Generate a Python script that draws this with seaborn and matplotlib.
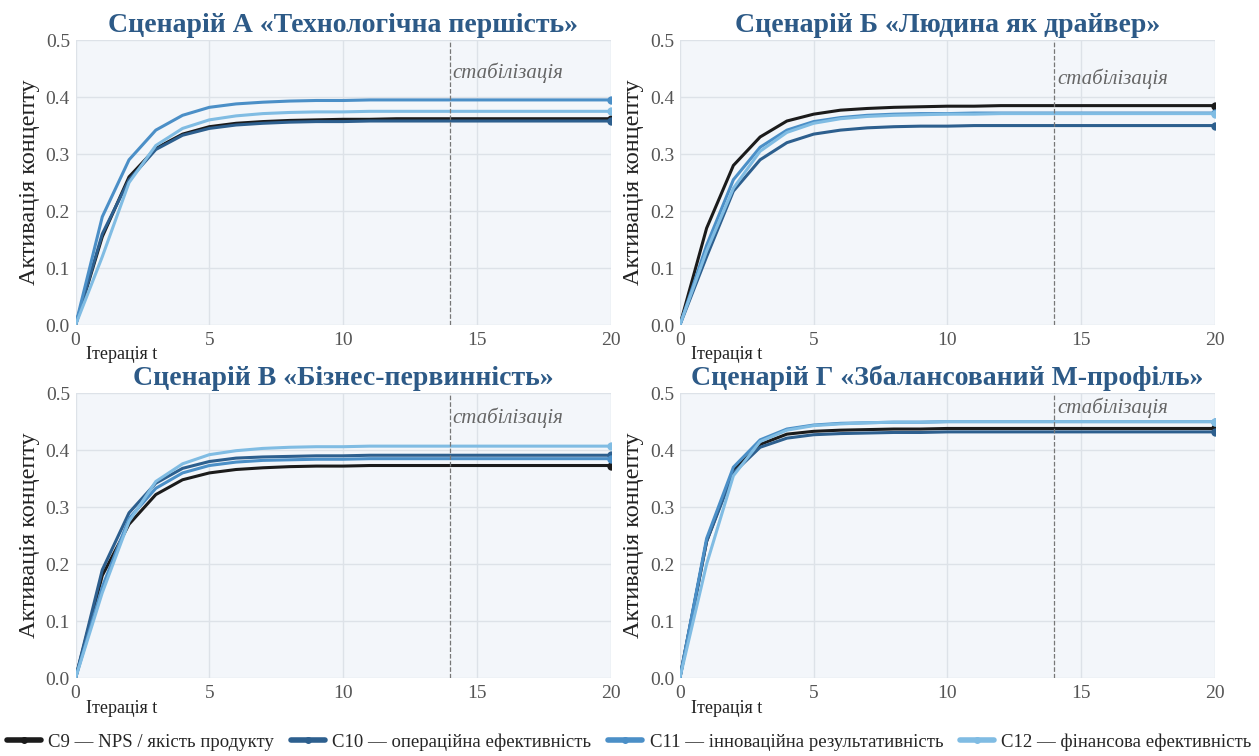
import pandas as pd
import numpy as np
import matplotlib
matplotlib.use('Agg')
import matplotlib.pyplot as plt
import seaborn as sns

t = list(range(21))

series_names = ['C9 — NPS / якість продукту', 'C10 — операційна ефективність',
                'C11 — інноваційна результативність', 'C12 — фінансова ефективність']
palette = ['#1b1b1b', '#2d5f8e', '#4b8fc7', '#80bce3']

titles = ['Сценарій А «Технологічна першість»', 'Сценарій Б «Людина як драйвер»',
          'Сценарій В «Бізнес-первинність»', 'Сценарій Г «Збалансований М-профіль»']

# scenario A
a_c9 = [0, 0.155, 0.26, 0.31, 0.335, 0.348, 0.354, 0.357, 0.359, 0.360, 0.361, 0.361, 0.362, 0.362, 0.362, 0.362, 0.362, 0.362, 0.362, 0.362, 0.362]
a_c10 = [0, 0.16, 0.255, 0.308, 0.333, 0.345, 0.351, 0.354, 0.356, 0.357, 0.357, 0.358, 0.358, 0.358, 0.358, 0.358, 0.358, 0.358, 0.358, 0.358, 0.358]
a_c11 = [0, 0.19, 0.29, 0.342, 0.368, 0.382, 0.388, 0.391, 0.393, 0.394, 0.394, 0.395, 0.395, 0.395, 0.395, 0.395, 0.395, 0.395, 0.395, 0.395, 0.395]
a_c12 = [0, 0.12, 0.25, 0.315, 0.345, 0.36, 0.367, 0.371, 0.373, 0.374, 0.374, 0.375, 0.375, 0.375, 0.375, 0.375, 0.375, 0.375, 0.375, 0.375, 0.375]

# scenario B
b_c9 = [0, 0.17, 0.28, 0.33, 0.358, 0.37, 0.377, 0.380, 0.382, 0.383, 0.384, 0.384, 0.385, 0.385, 0.385, 0.385, 0.385, 0.385, 0.385, 0.385, 0.385]
b_c10 = [0, 0.12, 0.235, 0.29, 0.32, 0.335, 0.342, 0.346, 0.348, 0.349, 0.349, 0.350, 0.350, 0.350, 0.350, 0.350, 0.350, 0.350, 0.350, 0.350, 0.350]
b_c11 = [0, 0.14, 0.255, 0.312, 0.342, 0.357, 0.364, 0.368, 0.370, 0.371, 0.371, 0.372, 0.372, 0.372, 0.372, 0.372, 0.372, 0.372, 0.372, 0.372, 0.372]
b_c12 = [0, 0.13, 0.24, 0.305, 0.338, 0.354, 0.362, 0.366, 0.368, 0.369, 0.370, 0.370, 0.371, 0.371, 0.371, 0.371, 0.371, 0.371, 0.371, 0.371, 0.371]

# scenario V
v_c9 = [0, 0.18, 0.27, 0.322, 0.348, 0.36, 0.366, 0.369, 0.371, 0.372, 0.372, 0.373, 0.373, 0.373, 0.373, 0.373, 0.373, 0.373, 0.373, 0.373, 0.373]
v_c10 = [0, 0.19, 0.29, 0.342, 0.368, 0.38, 0.386, 0.388, 0.389, 0.390, 0.390, 0.391, 0.391, 0.391, 0.391, 0.391, 0.391, 0.391, 0.391, 0.391, 0.391]
v_c11 = [0, 0.16, 0.28, 0.333, 0.36, 0.373, 0.379, 0.382, 0.383, 0.384, 0.384, 0.385, 0.385, 0.385, 0.385, 0.385, 0.385, 0.385, 0.385, 0.385, 0.385]
v_c12 = [0, 0.15, 0.275, 0.345, 0.376, 0.392, 0.399, 0.403, 0.405, 0.406, 0.406, 0.407, 0.407, 0.407, 0.407, 0.407, 0.407, 0.407, 0.407, 0.407, 0.407]

# scenario G
g_c9 = [0, 0.24, 0.365, 0.41, 0.428, 0.433, 0.435, 0.436, 0.437, 0.437, 0.438, 0.438, 0.438, 0.438, 0.438, 0.438, 0.438, 0.438, 0.438, 0.438, 0.438]
g_c10 = [0, 0.24, 0.36, 0.405, 0.421, 0.427, 0.429, 0.430, 0.431, 0.431, 0.432, 0.432, 0.432, 0.432, 0.432, 0.432, 0.432, 0.432, 0.432, 0.432, 0.432]
g_c11 = [0, 0.245, 0.37, 0.418, 0.437, 0.444, 0.447, 0.448, 0.449, 0.449, 0.450, 0.450, 0.450, 0.450, 0.450, 0.450, 0.450, 0.450, 0.450, 0.450, 0.450]
g_c12 = [0, 0.20, 0.355, 0.415, 0.435, 0.443, 0.446, 0.448, 0.449, 0.449, 0.450, 0.450, 0.450, 0.450, 0.450, 0.450, 0.450, 0.450, 0.450, 0.450, 0.450]

scenarios = [[a_c9, a_c10, a_c11, a_c12],
             [b_c9, b_c10, b_c11, b_c12],
             [v_c9, v_c10, v_c11, v_c12],
             [g_c9, g_c10, g_c11, g_c12]]
stab_y = [0.442, 0.433, 0.456, 0.475]

sns.set_theme(style='whitegrid')
plt.rcParams['font.family'] = ['Liberation Serif', 'DejaVu Serif']

fig = plt.figure(figsize=(12.59, 7.56), dpi=100)
boxes = [[0.060, 0.570, 0.425, 0.377], [0.540, 0.570, 0.425, 0.377],
         [0.060, 0.103, 0.425, 0.377], [0.540, 0.103, 0.425, 0.377]]

for i in range(4):
    ax = fig.add_axes(boxes[i])
    rows = []
    for name, vals in zip(series_names, scenarios[i]):
        for x, y in zip(t, vals):
            rows.append({'t': x, 'val': y, 'series': name})
    df = pd.DataFrame(rows)
    sns.lineplot(data=df, x='t', y='val', hue='series', palette=palette, ax=ax,
                 linewidth=2.2, marker='o', markersize=6, markevery=[20],
                 markeredgewidth=0, legend=False)
    ax.set_facecolor('#f3f6fa')
    ax.grid(color='#dde2e8', linewidth=1)
    for s in ax.spines.values():
        s.set_visible(False)
    ax.set_xlim(0, 20)
    ax.set_ylim(0, 0.5)
    ax.set_xticks([0, 5, 10, 15, 20])
    ax.set_yticks([0, 0.1, 0.2, 0.3, 0.4, 0.5])
    ax.set_yticklabels(['0.0', '0.1', '0.2', '0.3', '0.4', '0.5'])
    ax.tick_params(axis='y', labelsize=14, labelcolor='#555555', pad=4, length=0)
    ax.tick_params(axis='x', labelsize=14, labelcolor='#555555', pad=5, length=0)
    ax.set_xlabel('')
    ax.set_ylabel('Активація концепту', fontsize=17.5, color='#222222', labelpad=4)
    ax.text(0.02, -0.075, 'Ітерація t', transform=ax.transAxes, fontsize=13,
            color='#222222', ha='left', va='top')
    ax.axvline(14, color='#777777', linestyle='--', linewidth=0.9)
    ax.text(14.1, stab_y[i], 'стабілізація', fontsize=15, style='italic',
            color='#666666', ha='left', va='center')
    ax.set_title(titles[i], fontsize=20, fontweight='bold', color='#2d5a87', pad=6)

handles = [plt.Line2D([0], [0], color=c, linewidth=4, marker='o', markersize=4)
           for c in palette]
fig.legend(handles, series_names, loc='center', bbox_to_anchor=(0.5, 14 / 756),
           ncol=4, frameon=False, fontsize=13.5, handlelength=1.8,
           columnspacing=0.9, handletextpad=0.4, borderpad=0.1)

fig.savefig('out.png', dpi=100)
